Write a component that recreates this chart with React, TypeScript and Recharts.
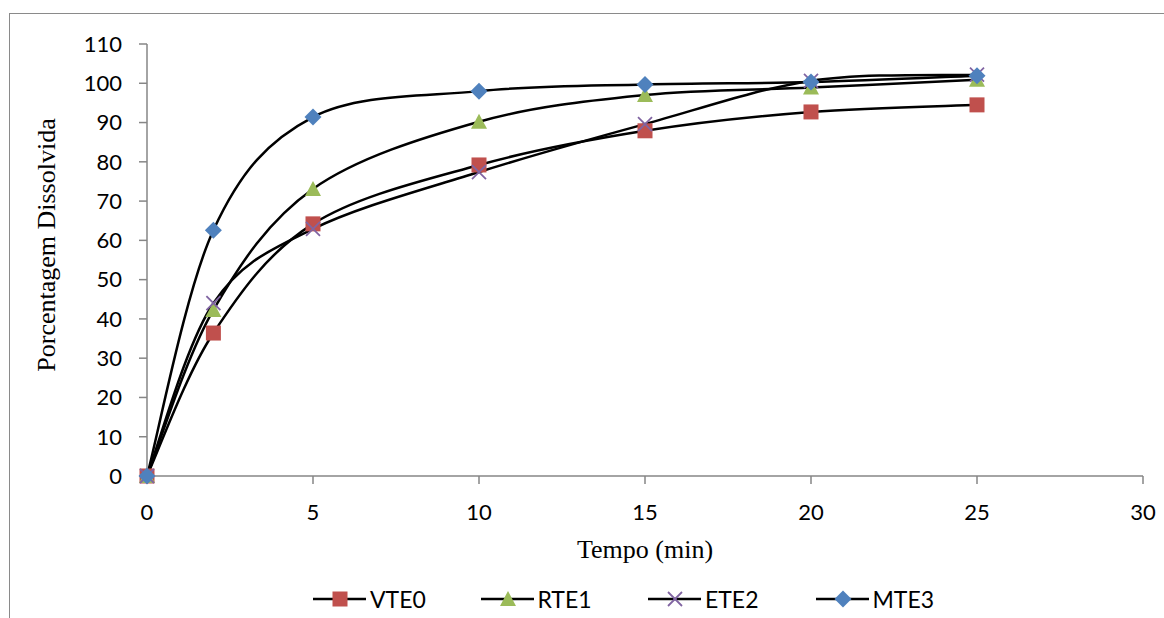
import React from 'react';
import { LineChart, Line, XAxis, YAxis } from 'recharts';

// dissolution time points (min)
const tempos = [0, 2, 5, 10, 15, 20, 25];

// % dissolved for each formulation
const vte0 = [0, 36.4, 64.2, 79.2, 87.9, 92.7, 94.5];
const rte1 = [0, 42.3, 73.1, 90.2, 97.0, 98.9, 100.9];
const ete2 = [0, 44.0, 62.9, 77.4, 89.6, 100.6, 102.2];
const mte3 = [0, 62.6, 91.4, 98.0, 99.7, 100.3, 101.9];

const xTicks = [0, 5, 10, 15, 20, 25, 30];
const yTicks = [0, 10, 20, 30, 40, 50, 60, 70, 80, 90, 100, 110];

const data = tempos.map((t, i) => ({
  tempo: t,
  VTE0: vte0[i],
  RTE1: rte1[i],
  ETE2: ete2[i],
  MTE3: mte3[i],
}));

const AXIS_GRAY = '#868686';
const TICK_FONT = 'Lato, "Open Sans", sans-serif';
const SERIF = '"Liberation Serif", "Times New Roman", serif';

// Catmull-Rom style smoothing, close to the "smoothed line" of spreadsheet charts
const smoothCurve = (context: any) => {
  let pts: [number, number][] = [];
  return {
    areaStart() {},
    areaEnd() {},
    lineStart() {
      pts = [];
    },
    point(x: number, y: number) {
      pts.push([+x, +y]);
    },
    lineEnd() {
      if (!pts.length) return;
      context.moveTo(pts[0][0], pts[0][1]);
      for (let i = 0; i < pts.length - 1; i++) {
        const p0 = pts[Math.max(0, i - 1)];
        const p1 = pts[i];
        const p2 = pts[i + 1];
        const p3 = pts[Math.min(pts.length - 1, i + 2)];
        context.bezierCurveTo(
          p1[0] + (p2[0] - p0[0]) / 6,
          p1[1] + (p2[1] - p0[1]) / 6,
          p2[0] - (p3[0] - p1[0]) / 6,
          p2[1] - (p3[1] - p1[1]) / 6,
          p2[0],
          p2[1]
        );
      }
    },
  };
};

type Shape = 'square' | 'triangle' | 'cross' | 'diamond';

const Marker = ({ cx, cy, shape, color }: { cx: number; cy: number; shape: Shape; color: string }) => {
  if (shape === 'square') {
    return <rect x={cx - 7.5} y={cy - 7.5} width={15} height={15} fill={color} />;
  }
  if (shape === 'triangle') {
    return <polygon points={`${cx},${cy - 8} ${cx + 8},${cy + 7} ${cx - 8},${cy + 7}`} fill={color} />;
  }
  if (shape === 'cross') {
    return (
      <g stroke={color} strokeWidth={1.8}>
        <line x1={cx - 7} y1={cy - 7} x2={cx + 7} y2={cy + 7} />
        <line x1={cx - 7} y1={cy + 7} x2={cx + 7} y2={cy - 7} />
      </g>
    );
  }
  return <polygon points={`${cx},${cy - 8.5} ${cx + 8.5},${cy} ${cx},${cy + 8.5} ${cx - 8.5},${cy}`} fill={color} />;
};

const series: { key: string; shape: Shape; color: string }[] = [
  { key: 'VTE0', shape: 'square', color: '#C0504D' },
  { key: 'RTE1', shape: 'triangle', color: '#9BBB59' },
  { key: 'ETE2', shape: 'cross', color: '#8064A2' },
  { key: 'MTE3', shape: 'diamond', color: '#4F81BD' },
];

const makeDot = (shape: Shape, color: string) => (props: any) => {
  const { cx, cy, index } = props;
  return <Marker key={`${shape}-${index}`} cx={cx} cy={cy} shape={shape} color={color} />;
};

const LegendRow = () => (
  <div
    style={{
      position: 'absolute',
      left: 313,
      top: 584,
      display: 'flex',
      fontFamily: TICK_FONT,
      fontSize: 23,
      color: '#000',
    }}
  >
    {series.map((s) => (
      <div key={s.key} style={{ display: 'flex', alignItems: 'center', width: 167.5 }}>
        <svg width={54} height={30}>
          <line x1={0} y1={15} x2={53} y2={15} stroke="#000" strokeWidth={2.5} />
          <Marker cx={27} cy={15} shape={s.shape} color={s.color} />
        </svg>
        <span style={{ marginLeft: 3 }}>{s.key}</span>
      </div>
    ))}
  </div>
);

export default function App() {
  return (
    <div
      style={{
        position: 'absolute',
        left: 0,
        top: 0,
        width: 1164,
        height: 618,
        overflow: 'hidden',
        background: '#fff',
      }}
    >
      <div
        style={{
          position: 'absolute',
          left: 9,
          top: 13,
          width: 1300,
          height: 800,
          borderLeft: '1.5px solid #8a8a8a',
          borderTop: '1.5px solid #8a8a8a',
        }}
      />
      <div style={{ position: 'absolute', left: 0, top: 0 }}>
        <LineChart
          width={1164}
          height={618}
          data={data}
          margin={{ top: 44, right: 21, bottom: 82, left: 0 }}
        >
          <XAxis
            dataKey="tempo"
            type="number"
            domain={[0, 30]}
            ticks={xTicks}
            height={60}
            stroke={AXIS_GRAY}
            strokeWidth={1.5}
            tickSize={8}
            tickMargin={20}
            tick={{ fill: '#000', fontSize: 22, fontFamily: TICK_FONT }}
            label={{
              value: 'Tempo (min)',
              position: 'insideBottom',
              offset: 0,
              content: (p: any) => (
                <text
                  x={645}
                  y={549}
                  textAnchor="middle"
                  dominantBaseline="central"
                  fontFamily={SERIF}
                  fontSize={26}
                  fill="#000"
                >
                  Tempo (min)
                </text>
              ),
            }}
          />
          <YAxis
            type="number"
            domain={[0, 110]}
            ticks={yTicks}
            width={147}
            stroke={AXIS_GRAY}
            strokeWidth={1.5}
            tickSize={8}
            tickMargin={17}
            interval={0}
            tick={{ fill: '#000', fontSize: 22, fontFamily: TICK_FONT }}
            label={{
              value: 'Porcentagem Dissolvida',
              content: () => (
                <text
                  x={46}
                  y={245}
                  textAnchor="middle"
                  dominantBaseline="central"
                  transform="rotate(-90 46 245)"
                  fontFamily={SERIF}
                  fontSize={26}
                  fill="#000"
                >
                  Porcentagem Dissolvida
                </text>
              ),
            }}
          />
          {series.map((s) => (
            <Line
              key={s.key}
              dataKey={s.key}
              type={smoothCurve as any}
              stroke="#000"
              strokeWidth={2.5}
              dot={makeDot(s.shape, s.color)}
              activeDot={false}
              isAnimationActive={false}
            />
          ))}
        </LineChart>
      </div>
      <LegendRow />
    </div>
  );
}
